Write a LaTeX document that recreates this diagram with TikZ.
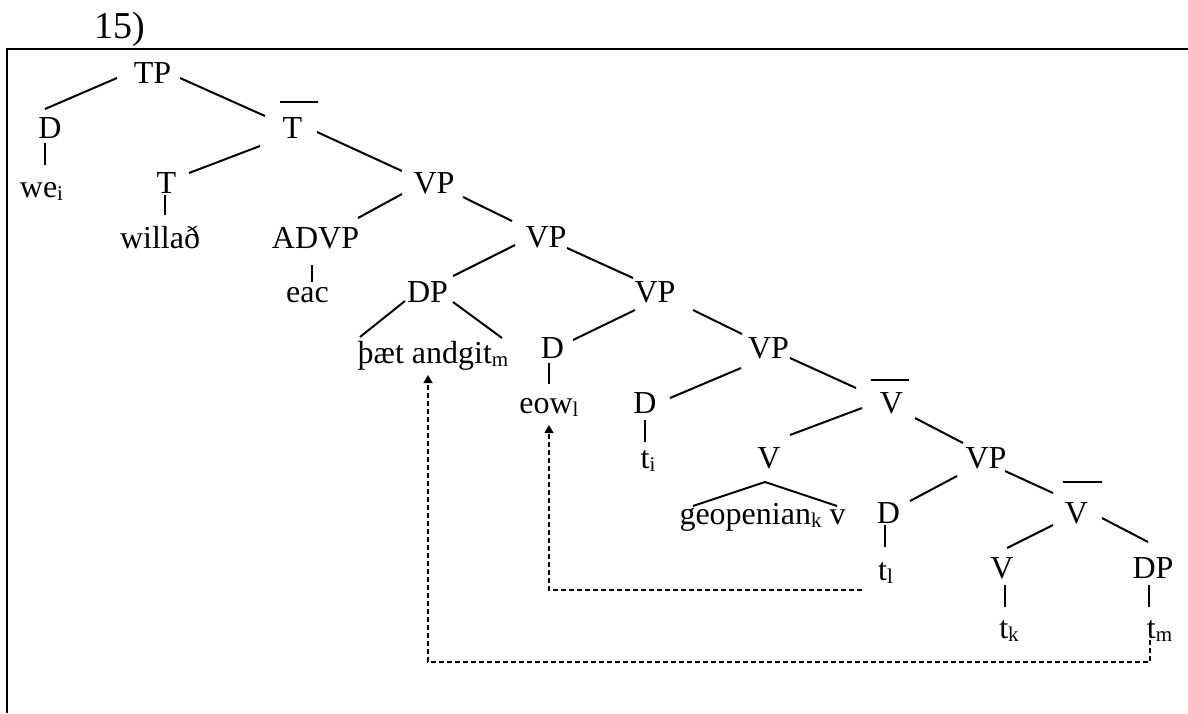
\documentclass[tikz,border=0pt]{standalone}
\usepackage{fontspec}
\setmainfont{Liberation Serif}
\usetikzlibrary{calc,arrows.meta}
\newcommand\sbx[1]{\raisebox{-3pt}{\fontsize{21}{21}\selectfont #1}}
\begin{document}
\begin{tikzpicture}[x=1pt,y=-1pt,
  lbl/.style={anchor=base,inner sep=0pt,font=\fontsize{32}{38}\selectfont},
  branch/.style={line width=2pt},
  boxline/.style={line width=2.2pt},
  barline/.style={line width=2pt},
  movearrow/.style={line width=1.1pt,dash pattern=on 5pt off 3pt,-{Triangle[length=8pt,width=9pt]}}]
\useasboundingbox (0,0) rectangle (1188,713);
% frame
\draw[boxline] (1188,49) -- (7,49) -- (7,713);
% number
\node[lbl,font=\fontsize{38}{44}\selectfont] (num) at (120,38) {15)};
% nodes
\node[lbl] (TP) at (152.5,83) {TP};
\node[lbl] (D1) at (50,138) {D};
\node[lbl] (Tb) at (292.5,138) {T};
\node[lbl] (we) at (41.5,197) {we\sbx{i}};
\node[lbl] (T2) at (166.5,193) {T};
\node[lbl] (will) at (160,248) {willað};
\node[lbl] (VP1) at (434,193) {VP};
\node[lbl] (ADVP) at (315.5,248) {ADVP};
\node[lbl] (eac) at (307.5,302) {eac};
\node[lbl] (VP2) at (546,247) {VP};
\node[lbl] (DP1) at (427.5,302) {DP};
\node[lbl] (VP3) at (655,302) {VP};
\node[lbl] (thaet) at (433,363) {þæt andgit\sbx{m}};
\node[lbl] (D2) at (552.5,358) {D};
\node[lbl] (eow) at (549,413) {eow\sbx{l}};
\node[lbl] (VP4) at (768.5,358) {VP};
\node[lbl] (D3) at (645,413) {D};
\node[lbl] (ti) at (648,468) {t\sbx{i}};
\node[lbl] (Vb1) at (891.5,413) {V};
\node[lbl] (V1) at (769,468) {V};
\node[lbl] (geo) at (762.5,524) {geopenian\sbx{k} v};
\node[lbl] (VP5) at (986,468) {VP};
\node[lbl] (D4) at (888.5,523) {D};
\node[lbl] (Vb2) at (1076.5,523) {V};
\node[lbl] (tl) at (885.5,580) {t\sbx{l}};
\node[lbl] (V2) at (1002,578) {V};
\node[lbl] (DP2) at (1153,578) {DP};
\node[lbl] (tk) at (1009,638) {t\sbx{k}};
\node[lbl] (tm) at (1159.5,638) {t\sbx{m}};
% bars
\draw[barline] ($(Tb.base)+(-12.5,-36)$) -- ($(Tb.base)+(25.5,-36)$);
\draw[barline] ($(Vb1.base)+(-20.5,-33)$) -- ($(Vb1.base)+(17.5,-33)$);
\draw[barline] ($(Vb2.base)+(-13.5,-41)$) -- ($(Vb2.base)+(25.5,-41)$);
% branches
\draw[branch] ($(TP.base)+(-35.5,-5)$) -- ($(D1.base)+(-5,-29)$);
\draw[branch] ($(TP.base)+(27.5,-5)$) -- ($(Tb.base)+(-27.5,-22)$);
\draw[branch] ($(D1.base)+(-5,5)$) -- ($(we.base)+(3.5,-32)$);
\draw[branch] ($(Tb.base)+(-32.5,8)$) -- ($(T2.base)+(22.5,-20)$);
\draw[branch] ($(Tb.base)+(24.5,-6)$) -- ($(VP1.base)+(-32,-22)$);
\draw[branch] ($(T2.base)+(-1.5,2)$) -- ($(will.base)+(5,-33)$);
\draw[branch] ($(VP1.base)+(-32,1)$) -- ($(ADVP.base)+(42.5,-30)$);
\draw[branch] ($(VP1.base)+(29,4)$) -- ($(VP2.base)+(-34,-26)$);
\draw[branch] ($(ADVP.base)+(-3.5,17)$) -- ($(eac.base)+(4.5,-20)$);
\draw[branch] ($(VP2.base)+(-31,-2)$) -- ($(DP1.base)+(25.5,-26)$);
\draw[branch] ($(VP2.base)+(21,1)$) -- ($(VP3.base)+(-22,-24)$);
\draw[branch] ($(DP1.base)+(-22.5,-1)$) -- ($(thaet.base)+(-73,-26)$);
\draw[branch] ($(DP1.base)+(25.5,0)$) -- ($(thaet.base)+(69,-25)$);
\draw[branch] ($(VP3.base)+(-20,8)$) -- ($(D2.base)+(20.5,-18)$);
\draw[branch] ($(VP3.base)+(38,8)$) -- ($(VP4.base)+(-26.5,-24)$);
\draw[branch] ($(D2.base)+(-3.5,5)$) -- ($(eow.base)+(0,-29)$);
\draw[branch] ($(VP4.base)+(-27.5,10)$) -- ($(D3.base)+(25,-15)$);
\draw[branch] ($(VP4.base)+(21.5,0)$) -- ($(Vb1.base)+(-35.5,-25)$);
\draw[branch] ($(D3.base)+(0,7)$) -- ($(ti.base)+(-3,-26)$);
\draw[branch] ($(Vb1.base)+(-29.5,-5)$) -- ($(V1.base)+(21,-33)$);
\draw[branch] ($(Vb1.base)+(23.5,5)$) -- ($(VP5.base)+(-23,-25)$);
\draw[branch] ($(V1.base)+(-4,14)$) -- ($(geo.base)+(-69.5,-18)$);
\draw[branch] ($(V1.base)+(-4,14)$) -- ($(geo.base)+(74.5,-18)$);
\draw[branch] ($(VP5.base)+(-29,8)$) -- ($(D4.base)+(21.5,-22)$);
\draw[branch] ($(VP5.base)+(19,3)$) -- ($(Vb2.base)+(-23.5,-30)$);
\draw[branch] ($(D4.base)+(-3.5,2)$) -- ($(tl.base)+(-0.5,-33)$);
\draw[branch] ($(Vb2.base)+(-23.5,2)$) -- ($(V2.base)+(5,-30)$);
\draw[branch] ($(Vb2.base)+(25.5,-5)$) -- ($(DP2.base)+(-5,-36)$);
\draw[branch] ($(V2.base)+(3,7)$) -- ($(tk.base)+(-4,-31)$);
\draw[branch] ($(DP2.base)+(-4,7)$) -- ($(tm.base)+(-10.5,-31)$);
% movement arrows
\draw[movearrow] ($(tl.base)+(-23.5,10)$) -| ($(eow.base)+(0,12)$);
\draw[movearrow] ($(tm.base)+(-9.5,2)$) -- ++(0,22) -| ($(thaet.base)+(-5,12)$);
\end{tikzpicture}
\end{document}
